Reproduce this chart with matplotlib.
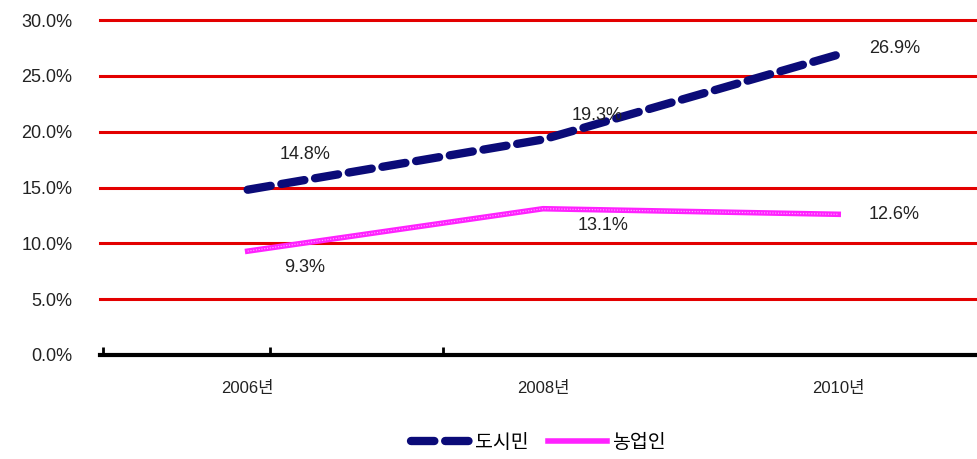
import matplotlib
matplotlib.use("Agg")
import matplotlib.pyplot as plt
from matplotlib.ticker import FixedLocator

plt.rcParams['font.family'] = ['Liberation Sans', 'Noto Sans CJK KR', 'DejaVu Sans']

categories = ['2006년', '2008년', '2010년']
urban = [14.8, 19.3, 26.9]
farmer = [9.3, 13.1, 12.6]
series_names = ['도시민', '농업인']
yticks = [0, 5, 10, 15, 20, 25, 30]

fig = plt.figure(figsize=(9.77, 4.59), dpi=100)
ax = fig.add_axes([0.1024, 0.2266, 0.8976, 0.7298])

x = list(range(len(categories)))
ax.set_xlim(-0.5, 2.47)
ax.set_ylim(0, 30)

for yv in yticks[1:]:
    ax.axhline(yv, color='#e30000', lw=2.2, zorder=1, clip_on=False)

l1, = ax.plot(x, urban, color='#0b0b78', lw=6, dashes=(2.8, 1.3),
              solid_capstyle='round', dash_capstyle='round', zorder=3, label=series_names[0])
l2, = ax.plot(x, farmer, color='#ff22ff', lw=4, zorder=3, label=series_names[1])
ax.plot(x, farmer, color='#ffb4ff', lw=0.8, dashes=(1, 1.5), zorder=4)

offsets_u = [(57, 35), (54, 24), (56, 6)]
offsets_f = [(57, -16), (60, -17), (56, 0)]
for xi, v, off in zip(x, urban, offsets_u):
    ax.annotate(f'{v:.1f}%', (xi, v), xytext=off, textcoords='offset pixels',
                ha='center', va='center', fontsize=13, color='#222222', zorder=5)
for xi, v, off in zip(x, farmer, offsets_f):
    ax.annotate(f'{v:.1f}%', (xi, v), xytext=off, textcoords='offset pixels',
                ha='center', va='center', fontsize=13, color='#222222', zorder=5)

ax.set_yticks(yticks)
ax.set_yticklabels([f'{v:.1f}%' for v in yticks], fontsize=13, color='#222222')
ax.tick_params(axis='y', length=0, pad=20)

ax.set_xticks(x)
ax.set_xticklabels(categories, fontsize=12, color='#222222')
ax.tick_params(axis='x', which='major', length=0, pad=19)
ax.xaxis.set_minor_locator(FixedLocator([-0.49, 0.075, 0.66]))
ax.tick_params(axis='x', which='minor', direction='in', length=6, width=2, color='black')

for s in ['top', 'right', 'left']:
    ax.spines[s].set_visible(False)
ax.spines['bottom'].set_linewidth(3)
ax.spines['bottom'].set_zorder(2)

ax.legend(handles=[l1, l2], loc='center', bbox_to_anchor=(0.5, -0.2625), ncol=2,
          frameon=False, fontsize=14, handlelength=3.0, columnspacing=1.0, handletextpad=0.3)

fig.savefig('out.png', dpi=100)
